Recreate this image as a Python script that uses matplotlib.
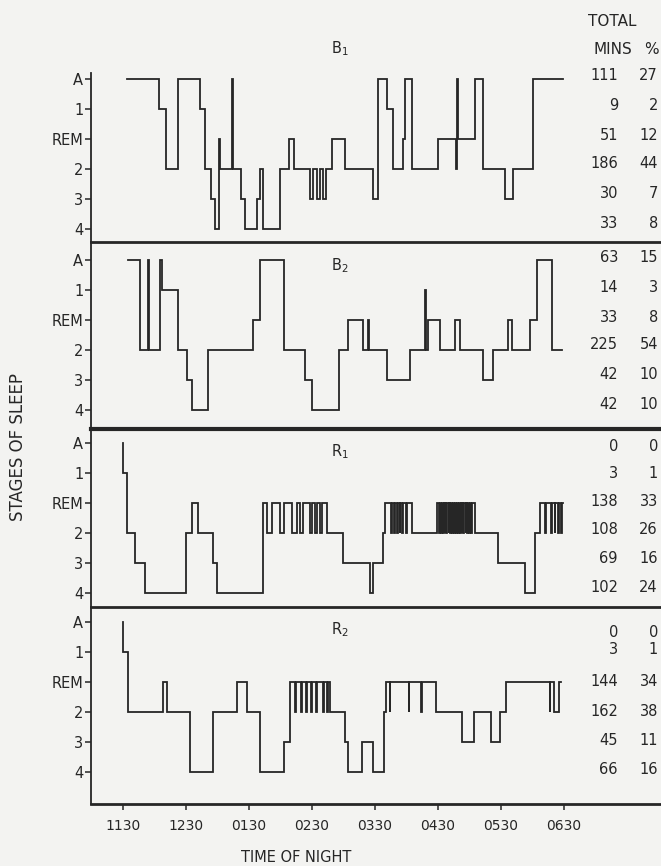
import matplotlib.pyplot as plt
from matplotlib.transforms import blended_transform_factory

W, H = 661, 866

# stage order from top to bottom of each panel
stage_labels = ['A', '1', 'REM', '2', '3', '4']
levels = {s: i for i, s in enumerate(stage_labels)}

time_ticks = [0, 60, 120, 180, 240, 300, 360, 420]   # minutes after 23:30
time_labels = ['1130', '1230', '0130', '0230', '0330', '0430', '0530', '0630']

# hypnograms: minute at which each stage starts, stage entered, end of record
b1_times = [4, 35, 41, 53, 74, 78, 84, 88, 92, 93,
            104, 104.6, 113, 116, 127.5, 130.7, 133.8, 150, 158, 163,
            178.3, 181.4, 184.6, 187.8, 190.3, 193.5, 199, 211.6, 238.3, 242.7,
            251.2, 257, 266.4, 268.7, 275, 300.4, 317, 318.5, 319.3, 335.3,
            343.2, 363.8, 371.8, 390.8]
b1_stages = ['A', '1', '2', 'A', '1', '2', '3', '4', 'REM', '2',
             'A', '2', '3', '4', '3', '2', '4', '2', 'REM', '2',
             '3', '2', '3', '2', '3', '2', 'REM', '2', '3', 'A',
             '1', '2', 'REM', 'A', '2', 'REM', '2', 'A', 'REM', 'A',
             '2', '3', '2', 'A']
b1_end = 419.3
b1_dips = []

b2_times = [5.4, 16.5, 24.4, 25.4, 35.5, 37.1, 53, 60.9, 65.7, 81.5,
            124.3, 130.7, 153.5, 173.5, 179.9, 206.2, 214.8, 229, 233.8, 234.4,
            251.2, 273.4, 287.7, 288.2, 290.9, 301.9, 316.2, 320.9, 343.2, 352.8,
            367, 370.1, 387.6, 394, 408.2]
b2_stages = ['A', '2', 'A', '2', 'A', '1', '2', '3', '4', '2',
             'REM', 'A', '2', '3', '4', '2', 'REM', '2', 'REM', '2',
             '3', '2', '1', '2', 'REM', '2', 'REM', '2', '3', '2',
             'REM', '2', 'REM', 'A', '2']
b2_end = 417.7
b2_dips = []

r1_times = [0, 0.4, 3.8, 11.7, 21.2, 60.3, 65.7, 72, 86, 89.5,
            133.3, 194, 210, 235.5, 238.5, 248, 249.6, 275, 298.8, 335.2,
            357.6, 382.8, 392.3, 397.1]
r1_stages = ['A', '1', '2', '3', '4', '2', 'REM', '2', '3', '4',
             'REM', '2', '3', '4', '3', '2', 'REM', '2', 'REM', '2',
             '3', '4', '2', 'REM']
r1_end = 419.3
# short drops from REM to stage 2
r1_dips = [(137, 141.8), (149.7, 153.5), (160.8, 165.6), (168.8, 171.9),
           (178.3, 179.9), (183, 185.2), (187.8, 189.4),
           (255.5, 256.2), (258.5, 259.2), (261, 261.6), (263.5, 264.1),
           (266, 266.6), (269.5, 270.2),
           (301, 301.7), (302.9, 303.4), (304.5, 305.3), (306.6, 307.1),
           (308.1, 308.9), (310.2, 310.7), (311.8, 312.5), (313.7, 314.2),
           (315.3, 316.1), (317.2, 317.8), (319.1, 319.6), (320.7, 321.5),
           (322.7, 323.2), (324.3, 325.1), (326.3, 326.8), (328, 328.7),
           (329.9, 330.4), (331.5, 332.3),
           (401.5, 402.5), (407.8, 408.6), (411, 411.6), (414.2, 414.8),
           (417.4, 418)]

r2_times = [0, 0.4, 5.4, 38.7, 41.9, 64.1, 86.3, 108.5, 118, 130.7,
            153.5, 159.2, 197.3, 211.6, 214.8, 227.4, 238.3, 248.3, 250.3, 298.4,
            322.5, 334.6, 350.6, 358.6, 364.7, 410, 415.5]
r2_stages = ['A', '1', '2', 'REM', '2', '4', '2', 'REM', '2', '4',
             '3', 'REM', '2', '3', '4', '3', '4', '2', 'REM', '2',
             '3', '2', '3', '2', 'REM', '2', 'REM']
r2_end = 416.8
r2_dips = [(164, 164.6), (170, 170.6), (174.8, 175.4), (179.6, 180.2),
           (184.3, 184.9), (190.5, 191.3), (194.5, 195.5),
           (254, 254.8), (272, 272.6), (284, 284.6),
           (406.5, 407.1)]

# right-hand table: total minutes and percent per stage
b1_mins = [111, 9, 51, 186, 30, 33]
b1_pct = [27, 2, 12, 44, 7, 8]
b2_mins = [63, 14, 33, 225, 42, 42]
b2_pct = [15, 3, 8, 54, 10, 10]
r1_mins = [0, 3, 138, 108, 69, 102]
r1_pct = [0, 1, 33, 26, 16, 24]
r2_mins = [0, 3, 144, 162, 45, 66]
r2_pct = [0, 1, 34, 38, 11, 16]

names = [r'B$_1$', r'B$_2$', r'R$_1$', r'R$_2$']


def step_xy(times, stages, end, dips):
    events = list(zip(times, stages))
    for a, b in dips:
        active = [s for t, s in events if t <= a][-1]
        events += [(a, '2'), (b, active)]
    events.sort(key=lambda e: e[0])
    xs, ys = [], []
    for i, (t, s) in enumerate(events):
        t2 = events[i + 1][0] if i + 1 < len(events) else end
        xs += [t, t2]
        ys += [levels[s], levels[s]]
    return xs, ys


ink = '#262626'
bg = '#f3f3f1'
plt.rcParams['font.family'] = ['DejaVu Sans']

fig = plt.figure(figsize=(W / 100, H / 100), dpi=100, facecolor=bg)

# panel layout in pixels: top, bottom, y of stage A, title y, row offsets
panels = [
    dict(top=73, bot=242, a=79, title=49, rows=[-0.13, 0.9, 1.9, 2.8, 3.8, 4.8], sep=2.0),
    dict(top=242, bot=429, a=260, title=266, rows=[-0.07, 0.93, 1.93, 2.83, 3.83, 4.83], sep=3.0),
    dict(top=429, bot=607, a=443, title=452, rows=[0.1, 1.0, 1.95, 2.9, 3.85, 4.8], sep=2.0),
    dict(top=607, bot=804, a=622, title=630, rows=[0.35, 0.9, 1.97, 3.0, 3.95, 4.9], sep=2.0),
]
series = [
    (b1_times, b1_stages, b1_end, b1_dips, b1_mins, b1_pct),
    (b2_times, b2_stages, b2_end, b2_dips, b2_mins, b2_pct),
    (r1_times, r1_stages, r1_end, r1_dips, r1_mins, r1_pct),
    (r2_times, r2_stages, r2_end, r2_dips, r2_mins, r2_pct),
]

x0_px, px_per_min = 122.7, 63.05 / 60
left_px = 91

for k, (p, (t, s, e, d, mins, pct)) in enumerate(zip(panels, series)):
    ax = fig.add_axes([left_px / W, 1 - p['bot'] / H, (W - left_px) / W, (p['bot'] - p['top']) / H])
    ax.set_facecolor('none')
    xs, ys = step_xy(t, s, e, d)
    ax.plot(xs, ys, color=ink, lw=1.3, solid_joinstyle='miter')
    ax.set_xlim((left_px - x0_px) / px_per_min, (W - x0_px) / px_per_min)
    ax.set_ylim((p['bot'] - p['a']) / 30, (p['top'] - p['a']) / 30)
    ax.set_yticks(range(6))
    ax.set_yticklabels(stage_labels)
    ax.tick_params(axis='y', direction='out', length=4, width=1.1, pad=1.5,
                   labelsize=10.5, colors=ink)
    for side in ['top', 'right']:
        ax.spines[side].set_visible(False)
    ax.spines['left'].set_linewidth(1.3)
    ax.spines['bottom'].set_linewidth(p['sep'])
    for sp in ax.spines.values():
        sp.set_color(ink)
    if k == 3:
        ax.set_xticks(time_ticks)
        ax.set_xticklabels(time_labels)
        ax.tick_params(axis='x', direction='out', length=4, width=1.1, pad=7,
                       labelsize=10, colors=ink)
    else:
        ax.tick_params(axis='x', bottom=False, labelbottom=False)

    fig.text(340 / W, 1 - p['title'] / H, names[k], ha='center', va='center',
             fontsize=10.5, color=ink)
    tr = blended_transform_factory(fig.transFigure, ax.transData)
    for r, mv, pv in zip(p['rows'], mins, pct):
        ax.text(618 / W, r, str(mv), transform=tr, ha='right', va='center',
                fontsize=10.5, color=ink, clip_on=False)
        ax.text(658 / W, r, str(pv), transform=tr, ha='right', va='center',
                fontsize=10.5, color=ink, clip_on=False)

fig.text(612 / W, 1 - 21 / H, 'TOTAL', ha='center', va='center', fontsize=11, color=ink)
fig.text(632 / W, 1 - 49 / H, 'MINS', ha='right', va='center', fontsize=11, color=ink)
fig.text(659 / W, 1 - 49 / H, '%', ha='right', va='center', fontsize=11, color=ink)
fig.text(18 / W, 1 - 447 / H, 'STAGES OF SLEEP', rotation=90, ha='center', va='center',
         fontsize=12, color=ink)
fig.text(296 / W, 1 - 857 / H, 'TIME OF NIGHT', ha='center', va='center', fontsize=10.5,
         color=ink)

fig.savefig('out.png', dpi=100, facecolor=bg)
